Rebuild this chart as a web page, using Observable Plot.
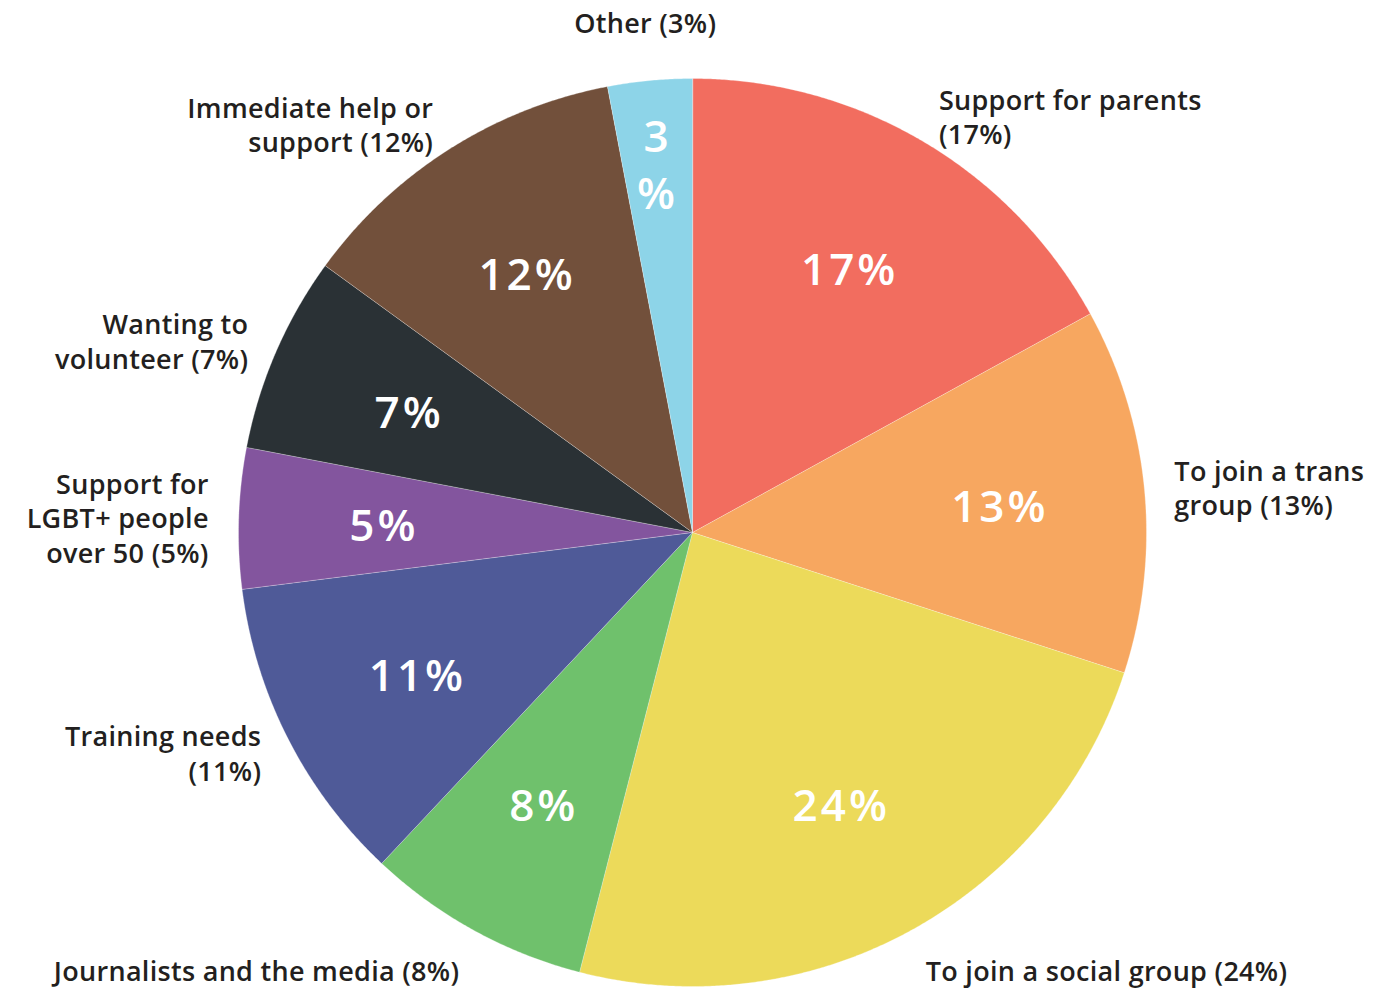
<!DOCTYPE html>
<html><head><meta charset="utf-8">
<script src="https://cdn.jsdelivr.net/npm/d3@7"></script>
<script src="https://cdn.jsdelivr.net/npm/@observablehq/plot@0.6"></script>
<style>
html,body{margin:0;padding:0;background:#fff;}
#chart{width:1374px;height:995px;overflow:hidden;}
</style>
</head><body><div id="chart"></div>
<script>
// ---- data ----
const categories = ["Support for parents", "To join a trans group", "To join a social group", "Journalists and the media", "Training needs", "Support for LGBT+ people over 50", "Wanting to volunteer", "Immediate help or support", "Other"];
const values = [17, 13, 24, 8, 11, 5, 7, 12, 3];
const colors = ["#F26D5F", "#F7A760", "#ECDA5A", "#6FC16C", "#4F5A98", "#83559E", "#2A3135", "#72503B", "#8DD4E8"];
const outerLabels = ["Support for parents\n(17%)", "To join a trans\ngroup (13%)", "To join a social group (24%)", "Journalists and the media (8%)", "Training needs\n(11%)", "Support for\nLGBT+ people\nover 50 (5%)", "Wanting to\nvolunteer (7%)", "Immediate help or\nsupport (12%)", "Other (3%)"];

// ---- layout ----
const W = 1374, H = 995;
const CX = 692, CY = 532, R = 454;
const OUT = 1 + 30 / R;

const rows = categories.map((c, i) => ({category: c, value: values[i], color: colors[i], label: outerLabels[i]}));
const arcs = d3.pie().sort(null).value(d => d.value)(rows);
const pt = (a, r) => [r * Math.sin(a), -r * Math.cos(a)];

const features = arcs.map(a => {
  const ring = [[0, 0]];
  const n = Math.max(4, Math.ceil((a.endAngle - a.startAngle) / 0.005));
  for (let k = 0; k <= n; ++k) ring.push(pt(a.startAngle + (a.endAngle - a.startAngle) * k / n, 1));
  ring.push([0, 0]);
  return {type: "Feature", properties: a.data, geometry: {type: "Polygon", coordinates: [ring]}};
});

const inner = arcs.map(a => {
  const m = (a.startAngle + a.endAngle) / 2;
  const r = a.data.value < 4 ? 0.82 : 0.68;
  const [x, y] = pt(m, r);
  return {x, y, text: a.data.value < 4 ? `${a.data.value}\n%` : `${a.data.value}%`};
});

const outer = arcs.map(a => {
  const m = (a.startAngle + a.endAngle) / 2;
  const s = Math.sin(m), c = Math.cos(m);
  const top = c > 0.95, bottom = c < -0.85;
  const [x, y] = pt(m, top ? OUT + 0.04 : OUT);
  const anchor = Math.abs(s) < 0.15 ? "middle" : s > 0 ? "start" : "end";
  const lineAnchor = top ? "bottom" : bottom ? "top" : "middle";
  return {x, y, text: a.data.label, anchor, lineAnchor};
});

const outerMarks = d3.groups(outer, d => d.anchor + "|" + d.lineAnchor).map(([key, g]) => {
  const [anchor, lineAnchor] = key.split("|");
  return Plot.text(g, {x: "x", y: "y", text: "text", textAnchor: anchor, lineAnchor, fontSize: 27, fontWeight: 600, fill: "#231F20", lineHeight: 1.28, className: "outer-label"});
});

const chart = Plot.plot({
  width: W, height: H, margin: 0,
  style: {fontFamily: "'Open Sans', 'Noto Sans', sans-serif", background: "#fff"},
  color: {type: "identity"},
  projection: {type: "identity", domain: {type: "MultiPoint", coordinates: [[-CX / R, -CY / R], [(W - CX) / R, (H - CY) / R]]}},
  marks: [
    Plot.geo(features, {fill: d => d.properties.color, stroke: "#fff", strokeWidth: 0.5, strokeOpacity: 0.6}),
    Plot.text(inner, {x: "x", y: "y", text: "text", fill: "#fff", fontSize: 44, fontWeight: 600, lineHeight: 1.3, className: "inner-label"}),
    ...outerMarks
  ]
});
d3.select(chart).selectAll(".inner-label text").attr("letter-spacing", "3px");
d3.select(chart).selectAll(".outer-label text").attr("letter-spacing", "0.3px");
document.getElementById("chart").appendChild(chart);
</script>
</body></html>
